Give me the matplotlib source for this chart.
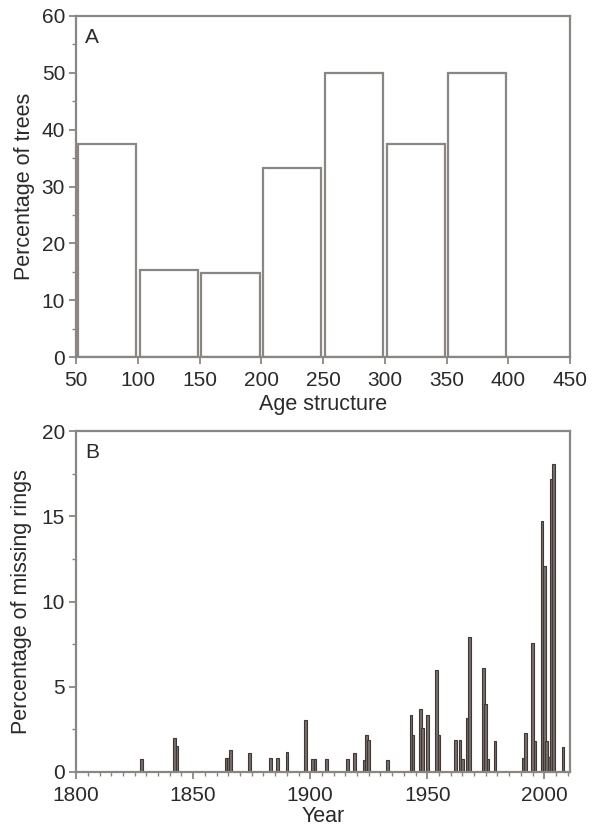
import matplotlib
matplotlib.use("Agg")
import matplotlib.pyplot as plt
from matplotlib.ticker import MultipleLocator

plt.rcParams["font.family"] = ["Liberation Sans", "DejaVu Sans"]

# panel A: age structure
age_bins = [50, 100, 150, 200, 250, 300, 350]
pct_trees = [37.5, 15.4, 14.8, 33.3, 50.0, 37.5, 50.0]

# panel B: missing rings by year
years = [1828, 1842, 1843, 1864, 1865, 1866, 1874, 1883, 1886, 1890,
         1898, 1901, 1902, 1907, 1916, 1919, 1923, 1924, 1925, 1933,
         1943, 1944, 1947, 1948, 1950, 1954, 1955, 1962, 1964, 1965,
         1967, 1968, 1974, 1975, 1976, 1979, 1991, 1992, 1995, 1996,
         1999, 2000, 2001, 2002, 2003, 2004, 2008]
missing = [0.75, 2.0, 1.5, 0.85, 0.85, 1.3, 1.1, 0.8, 0.8, 1.15,
           3.05, 0.75, 0.75, 0.75, 0.75, 1.1, 0.7, 2.2, 1.85, 0.7,
           3.35, 2.2, 3.7, 2.6, 3.35, 6.0, 2.2, 1.9, 1.9, 0.75,
           3.15, 7.9, 6.1, 4.0, 0.75, 1.8, 0.85, 2.3, 7.55, 1.8,
           14.75, 12.1, 1.8, 0.9, 17.2, 18.1, 1.45]

frame = "#8a8682"
txt = "#2a2a2a"

fig = plt.figure(figsize=(5.95, 8.31), dpi=100)
axA = fig.add_axes([0.128, 0.570, 0.830, 0.411])
axB = fig.add_axes([0.128, 0.071, 0.830, 0.410])

axA.bar([b + 1.5 for b in age_bins], pct_trees, width=47, align="edge",
        facecolor="white", edgecolor=frame, linewidth=1.6)
axA.set_xlim(50, 450)
axA.set_ylim(0, 60)
axA.xaxis.set_major_locator(MultipleLocator(50))
axA.yaxis.set_major_locator(MultipleLocator(10))
axA.yaxis.set_minor_locator(MultipleLocator(5))
axA.set_xlabel("Age structure", fontsize=15.5, color=txt, labelpad=3)
axA.set_ylabel("Percentage of trees", fontsize=15.5, color=txt, labelpad=5)
axA.text(0.018, 0.965, "A", transform=axA.transAxes, fontsize=15,
         color=txt, va="top", ha="left")

axB.bar(years, missing, width=1.1, facecolor="#756e6b",
        edgecolor="#3f3836", linewidth=0.8)
axB.set_xlim(1800, 2011)
axB.set_ylim(0, 20)
axB.xaxis.set_major_locator(MultipleLocator(50))
axB.xaxis.set_minor_locator(MultipleLocator(5))
axB.yaxis.set_major_locator(MultipleLocator(5))
axB.yaxis.set_minor_locator(MultipleLocator(2.5))
axB.set_xlabel("Year", fontsize=15.5, color=txt, labelpad=1)
axB.set_ylabel("Percentage of missing rings", fontsize=15.5, color=txt, labelpad=7)
axB.text(0.018, 0.965, "B", transform=axB.transAxes, fontsize=15,
         color=txt, va="top", ha="left")

for ax in (axA, axB):
    for s in ax.spines.values():
        s.set_color(frame)
        s.set_linewidth(1.6)
    ax.tick_params(which="major", direction="out", length=5, width=1.3,
                   color=frame, labelsize=15, labelcolor=txt)
    ax.tick_params(axis="x", which="major", pad=5)
    ax.tick_params(axis="y", which="major", pad=3)
    ax.tick_params(which="minor", direction="out", length=3, width=1.0,
                   color=frame)

fig.savefig("out.png", dpi=100)
plt.close(fig)
